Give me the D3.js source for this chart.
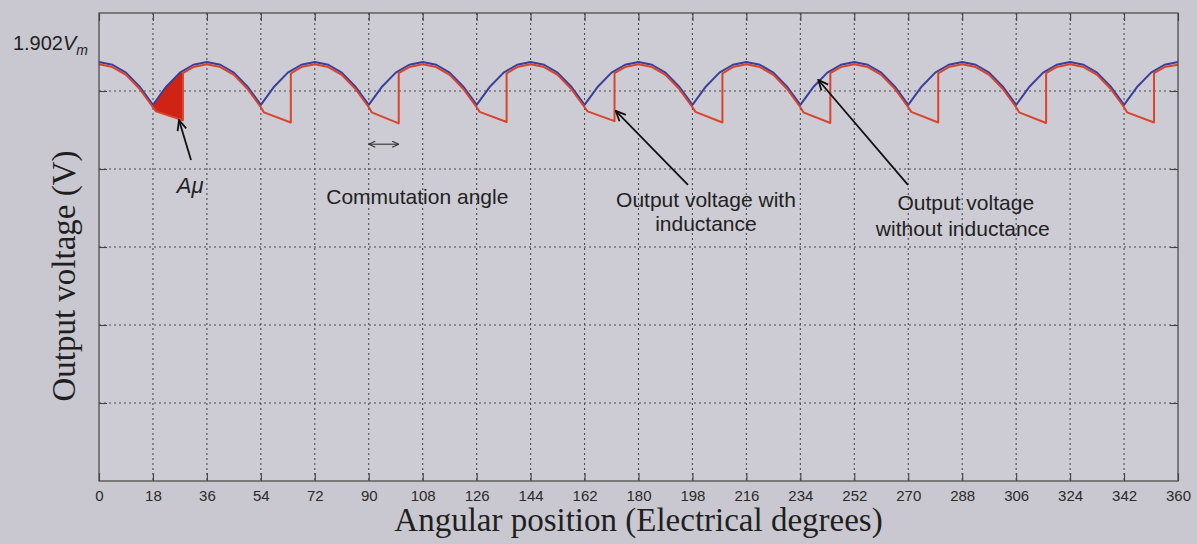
<!DOCTYPE html>
<html>
<head>
<meta charset="utf-8">
<script src="https://cdn.jsdelivr.net/npm/d3@7"></script>
<style>
  body { margin: 0; background: #c9c8d0; }
  #chart svg { display: block; }
  .tick-label text { font-family: "Liberation Sans", Arial, sans-serif; font-size: 15px; fill: #2a2a2a; }
  .axis-title { font-family: "Liberation Serif", "Times New Roman", serif; font-size: 33px; fill: #1f1f1f; }
  .note { font-family: "Liberation Sans", Arial, sans-serif; font-size: 21px; fill: #222; }
  .grid line { stroke: #4d4d4d; stroke-width: 1.1; stroke-dasharray: 2,3; }
  .ticks line { stroke: #444; stroke-width: 1.1; }
  .ticks path { display: none; }
</style>
</head>
<body>
<div id="chart"></div>
<script>
// x axis ticks (electrical degrees)
const xTicks = [0, 18, 36, 54, 72, 90, 108, 126, 144, 162, 180, 198, 216, 234, 252, 270, 288, 306, 324, 342, 360];

// y range (in units of Vm) and level marked on the axis
const yDomain = [0.995, 2.008];
const yMark = 1.902;

// output voltage without inductance, sampled every 4.5 degrees
const blueAngles = d3.range(0, 360.01, 4.5);
const vNoL = [
  1.902, 1.896, 1.879, 1.849, 1.809, 1.849, 1.879, 1.896,
  1.902, 1.896, 1.879, 1.849, 1.809, 1.849, 1.879, 1.896,
  1.902, 1.896, 1.879, 1.849, 1.809, 1.849, 1.879, 1.896,
  1.902, 1.896, 1.879, 1.849, 1.809, 1.849, 1.879, 1.896,
  1.902, 1.896, 1.879, 1.849, 1.809, 1.849, 1.879, 1.896,
  1.902, 1.896, 1.879, 1.849, 1.809, 1.849, 1.879, 1.896,
  1.902, 1.896, 1.879, 1.849, 1.809, 1.849, 1.879, 1.896,
  1.902, 1.896, 1.879, 1.849, 1.809, 1.849, 1.879, 1.896,
  1.902, 1.896, 1.879, 1.849, 1.809, 1.849, 1.879, 1.896,
  1.902, 1.896, 1.879, 1.849, 1.809, 1.849, 1.879, 1.896,
  1.902
];

// output voltage with inductance (commutation dips after every cusp)
const redAngles = [
  0, 4.5, 9, 13.5, 18,
  19, 28, 28, 31.5, 36, 40.5, 45, 49.5, 54,
  55, 64, 64, 67.5, 72, 76.5, 81, 85.5, 90,
  91, 100, 100, 103.5, 108, 112.5, 117, 121.5, 126,
  127, 136, 136, 139.5, 144, 148.5, 153, 157.5, 162,
  163, 172, 172, 175.5, 180, 184.5, 189, 193.5, 198,
  199, 208, 208, 211.5, 216, 220.5, 225, 229.5, 234,
  235, 244, 244, 247.5, 252, 256.5, 261, 265.5, 270,
  271, 280, 280, 283.5, 288, 292.5, 297, 301.5, 306,
  307, 316, 316, 319.5, 324, 328.5, 333, 337.5, 342,
  343, 352, 352, 355.5, 360
];
const vWithL = [
  1.897, 1.891, 1.874, 1.844, 1.804,
  1.795, 1.776, 1.878, 1.891, 1.897, 1.891, 1.874, 1.844, 1.804,
  1.793, 1.771, 1.877, 1.891, 1.897, 1.891, 1.874, 1.844, 1.804,
  1.793, 1.769, 1.878, 1.891, 1.897, 1.891, 1.874, 1.844, 1.804,
  1.794, 1.772, 1.877, 1.891, 1.897, 1.891, 1.874, 1.844, 1.804,
  1.795, 1.774, 1.878, 1.891, 1.897, 1.891, 1.874, 1.844, 1.804,
  1.794, 1.771, 1.877, 1.891, 1.897, 1.891, 1.874, 1.844, 1.804,
  1.793, 1.770, 1.878, 1.891, 1.897, 1.891, 1.874, 1.844, 1.804,
  1.794, 1.771, 1.877, 1.891, 1.897, 1.891, 1.874, 1.844, 1.804,
  1.793, 1.770, 1.878, 1.891, 1.897, 1.891, 1.874, 1.844, 1.804,
  1.793, 1.771, 1.878, 1.891, 1.896
];

// shaded voltage-time area A_mu (first commutation interval)
const areaRange = [18, 28];

class CommutationChart {

  constructor(_config) {
    this.config = {
      parentElement: _config.parentElement,
      containerWidth: 1197,
      containerHeight: 544
    };
    this.config.margin = _config.margin || { top: 13, right: 19, bottom: 63, left: 99 };
    this.initVis();
  }

  initVis() {
    let vis = this;
    let m = vis.config.margin;
    vis.config.width = vis.config.containerWidth - m.left - m.right;
    vis.config.height = vis.config.containerHeight - m.top - m.bottom;

    vis.svgContainer = d3.select(vis.config.parentElement).append("svg")
        .attr("width", vis.config.containerWidth)
        .attr("height", vis.config.containerHeight);

    let defs = vis.svgContainer.append("defs");
    defs.append("marker")
        .attr("id", "head")
        .attr("viewBox", "0 0 12 12")
        .attr("refX", 11).attr("refY", 6)
        .attr("markerWidth", 12).attr("markerHeight", 12)
        .attr("markerUnits", "userSpaceOnUse")
        .attr("orient", "auto-start-reverse")
      .append("path")
        .attr("d", "M1,1.5 L11,6 L1,10.5")
        .attr("fill", "none").attr("stroke", "#111").attr("stroke-width", 1.8);
    defs.append("marker")
        .attr("id", "small-head")
        .attr("viewBox", "0 0 8 8")
        .attr("refX", 7.5).attr("refY", 4)
        .attr("markerWidth", 8).attr("markerHeight", 8)
        .attr("markerUnits", "userSpaceOnUse")
        .attr("orient", "auto-start-reverse")
      .append("path")
        .attr("d", "M1,1 L7.5,4 L1,7")
        .attr("fill", "none").attr("stroke", "#333").attr("stroke-width", 1.1);

    vis.svg = vis.svgContainer.append("g")
        .attr("transform", "translate(" + m.left + "," + m.top + ")");

    vis.xScale = d3.scaleLinear().domain([0, 360]).range([0, vis.config.width]);
    vis.yScale = d3.scaleLinear().domain(yDomain).range([vis.config.height, 0]);

    // six equal divisions on the y axis
    vis.yGrid = d3.range(1, 6).map(i => yDomain[0] + i * (yDomain[1] - yDomain[0]) / 6);

    vis.svg.append("rect")
        .attr("width", vis.config.width)
        .attr("height", vis.config.height)
        .attr("fill", "#cdccd4");

    vis.updateVis();
  }

  updateVis() {
    let vis = this;
    let w = vis.config.width, h = vis.config.height;

    // dotted grid
    let grid = vis.svg.append("g").attr("class", "grid");
    grid.selectAll(".vline")
        .data(xTicks.slice(1, -1))
      .join("line")
        .attr("class", "vline")
        .attr("x1", d => vis.xScale(d)).attr("x2", d => vis.xScale(d))
        .attr("y1", 0).attr("y2", h);
    grid.selectAll(".hline")
        .data(vis.yGrid)
      .join("line")
        .attr("class", "hline")
        .attr("x1", 0).attr("x2", w)
        .attr("y1", d => vis.yScale(d)).attr("y2", d => vis.yScale(d));

    // shaded area A_mu
    let upper = blueAngles.map((a, i) => [a, vNoL[i]])
        .filter(d => d[0] >= areaRange[0] && d[0] <= areaRange[1]);
    let lower = redAngles.map((a, i) => [a, vWithL[i]])
        .filter(d => d[0] >= areaRange[0] && d[0] <= areaRange[1]).reverse();
    vis.svg.append("path")
        .datum(upper.concat(lower))
        .attr("fill", "#cf2316")
        .attr("d", d3.line().x(d => vis.xScale(d[0])).y(d => vis.yScale(d[1])));

    let line = d3.line()
        .x(d => vis.xScale(d[0]))
        .y(d => vis.yScale(d[1]));

    vis.svg.append("path")
        .datum(blueAngles.map((a, i) => [a, vNoL[i]]))
        .attr("fill", "none")
        .attr("stroke", "#39409a")
        .attr("stroke-width", 2)
        .attr("stroke-linejoin", "round")
        .attr("d", line);

    vis.svg.append("path")
        .datum(redAngles.map((a, i) => [a, vWithL[i]]))
        .attr("fill", "none")
        .attr("stroke", "#d9442c")
        .attr("stroke-width", 2)
        .attr("stroke-linejoin", "round")
        .attr("d", line);

    // ticks inside the box on all four sides
    vis.svg.append("g").attr("class", "ticks tick-label")
        .attr("transform", "translate(0," + h + ")")
        .call(d3.axisBottom(vis.xScale).tickValues(xTicks).tickSize(-8).tickPadding(9));
    vis.svg.append("g").attr("class", "ticks")
        .call(d3.axisTop(vis.xScale).tickValues(xTicks).tickSize(-8).tickFormat(""));
    vis.svg.append("g").attr("class", "ticks")
        .call(d3.axisLeft(vis.yScale).tickValues(vis.yGrid).tickSize(-8).tickFormat(""));
    vis.svg.append("g").attr("class", "ticks")
        .attr("transform", "translate(" + w + ",0)")
        .call(d3.axisRight(vis.yScale).tickValues(vis.yGrid).tickSize(-8).tickFormat(""));

    vis.svg.append("rect")
        .attr("width", w).attr("height", h)
        .attr("fill", "none")
        .attr("stroke", "#444")
        .attr("stroke-width", 1.2);

    // 1.902 Vm level label
    let lbl = vis.svg.append("text")
        .attr("class", "note")
        .attr("x", -11)
        .attr("y", vis.yScale(yMark) - 12)
        .attr("text-anchor", "end")
        .style("font-size", "20px");
    lbl.append("tspan").text("1.902");
    lbl.append("tspan").attr("font-style", "italic").text("V");
    lbl.append("tspan").attr("font-style", "italic").attr("font-size", "14px").attr("dy", 5).text("m");

    // annotations (positions in data units)
    let arrow = (a0, v0, a1, v1, marker, width, both) => {
      let p = vis.svg.append("line")
          .attr("x1", vis.xScale(a0)).attr("y1", vis.yScale(v0))
          .attr("x2", vis.xScale(a1)).attr("y2", vis.yScale(v1))
          .attr("stroke", marker === "head" ? "#111" : "#333")
          .attr("stroke-width", width)
          .attr("marker-end", "url(#" + marker + ")");
      if (both) p.attr("marker-start", "url(#" + marker + ")");
    };
    let note = (a, v, txt) => vis.svg.append("text")
        .attr("class", "note")
        .attr("x", vis.xScale(a)).attr("y", vis.yScale(v))
        .attr("text-anchor", "middle")
        .text(txt);

    arrow(30.7, 1.690, 26.7, 1.776, "head", 1.8);
    let amu = vis.svg.append("text")
        .attr("class", "note")
        .attr("x", vis.xScale(30.4)).attr("y", vis.yScale(1.618))
        .attr("text-anchor", "middle")
        .style("font-size", "22px")
        .attr("font-style", "italic");
    amu.append("tspan").text("A");
    amu.append("tspan").text("\u03bc");

    arrow(90, 1.724, 100, 1.724, "small-head", 1.1, true);
    note(106.2, 1.595, "Commutation angle");

    arrow(196.5, 1.636, 172.4, 1.796, "head", 1.8);
    note(202.5, 1.588, "Output voltage with");
    note(202.5, 1.536, "inductance");

    arrow(269.9, 1.636, 240, 1.863, "head", 1.8);
    note(289.2, 1.582, "Output voltage");
    note(288.2, 1.525, "without inductance");

    // axis titles
    vis.svgContainer.append("text")
        .attr("class", "axis-title")
        .attr("x", vis.config.margin.left + w / 2 - 0)
        .attr("y", 531)
        .attr("text-anchor", "middle")
        .text("Angular position (Electrical degrees)");
    vis.svgContainer.append("text")
        .attr("class", "axis-title")
        .attr("transform", "translate(75,276) rotate(-90)")
        .attr("text-anchor", "middle")
        .text("Output voltage (V)");
  }
}

new CommutationChart({ parentElement: "#chart" });
</script>
</body>
</html>
